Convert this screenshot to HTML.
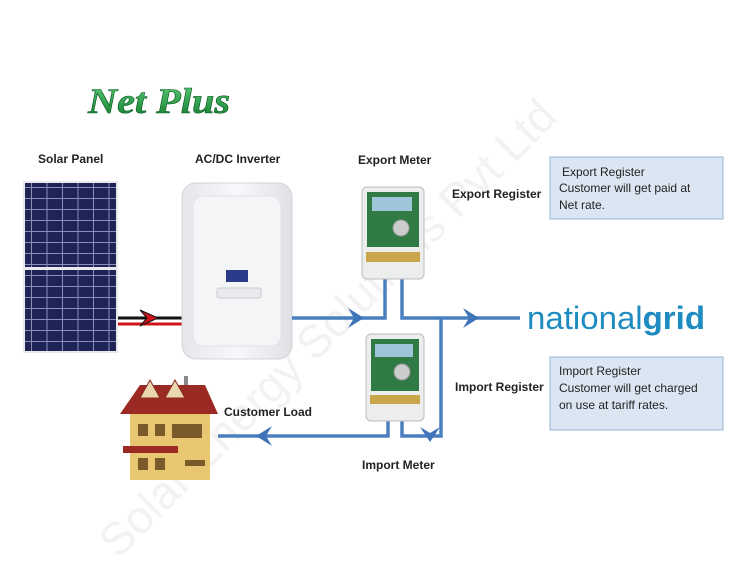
<!DOCTYPE html>
<html><head><meta charset="utf-8"><style>
html,body{margin:0;padding:0;background:#fff;}
svg{display:block;font-family:"Liberation Sans",sans-serif;}
</style></head><body>
<svg width="739" height="566" viewBox="0 0 739 566" xmlns="http://www.w3.org/2000/svg">
<defs>
<linearGradient id="np" x1="0" y1="0" x2="0" y2="1"><stop offset="0" stop-color="#5fd07a"/><stop offset="1" stop-color="#0e7a2c"/></linearGradient>
<linearGradient id="inv" x1="0" y1="0" x2="1" y2="0"><stop offset="0" stop-color="#e4e6ea"/><stop offset="0.5" stop-color="#f7f8fa"/><stop offset="1" stop-color="#dfe1e5"/></linearGradient>
<pattern id="cells" width="15.5" height="11" patternUnits="userSpaceOnUse"><rect width="15.5" height="11" fill="#1f2456"/><rect x="0" y="0" width="15.5" height="1" fill="#8a8fb8"/><rect x="0" y="0" width="1" height="11" fill="#8a8fb8"/></pattern>
</defs>
<!-- watermark -->
<text x="0" y="0" transform="translate(118,560) rotate(-45)" font-family="Liberation Sans" font-size="46" fill="#000" fill-opacity="0.05">Solar Energy Solutions Pvt Ltd</text>

<text x="88" y="113" font-family="Liberation Serif" font-weight="bold" font-style="italic" font-size="36" fill="url(#np)" stroke="#0a5a20" stroke-width="0.6" textLength="142" lengthAdjust="spacingAndGlyphs">Net Plus</text>

<g font-weight="bold" font-size="12" fill="#222">
<text x="38" y="163">Solar Panel</text>
<text x="195" y="163">AC/DC Inverter</text>
<text x="358" y="164">Export Meter</text>
<text x="452" y="198">Export Register</text>
<text x="455" y="391">Import Register</text>
<text x="224" y="416">Customer Load</text>
<text x="362" y="469">Import Meter</text>
</g>

<!-- solar panel -->
<rect x="23" y="181" width="95" height="172" fill="#e8e8ee"/>
<rect x="25" y="183" width="91" height="84" fill="url(#cells)"/>
<rect x="25" y="270" width="91" height="81" fill="url(#cells)"/>

<!-- wires to inverter -->
<line x1="118" y1="318" x2="185" y2="318" stroke="#111" stroke-width="3"/>
<line x1="118" y1="324" x2="185" y2="324" stroke="#d0141a" stroke-width="3"/>
<path d="M140 310 L158 318 L140 326 L147 318Z" fill="#d0141a" stroke="#111" stroke-width="1"/>

<!-- inverter -->
<rect x="182" y="183" width="110" height="176" rx="14" fill="url(#inv)" stroke="#d2d4d8"/>
<rect x="193" y="196" width="88" height="150" rx="10" fill="#f4f5f7" stroke="#e0e2e6"/>
<rect x="226" y="270" width="22" height="12" fill="#2c3a8c"/>
<rect x="217" y="288" width="44" height="10" rx="2" fill="#e9eaed" stroke="#ccc"/>

<!-- blue lines -->
<g stroke="#4a7fbf" stroke-width="3.5" fill="none" stroke-linejoin="miter">
<polyline points="292,318 385,318 385,278"/>
<polyline points="402,278 402,318 520,318"/>
<polyline points="441,318 441,436 402,436 402,420"/>
<polyline points="388,420 388,436 218,436"/>
</g>
<g fill="#3f74b8">
<path d="M348 308 L364 318 L348 328 L354 318Z"/>
<path d="M463 308 L479 318 L463 328 L469 318Z"/>
<path d="M272 426 L256 436 L272 446 L266 436Z"/>
<path d="M420 427 L430 442 L440 427 L430 433Z"/>
</g>

<!-- meters -->
<g>
<rect x="362" y="187" width="62" height="92" rx="5" fill="#eceeee" stroke="#bbb"/>
<rect x="367" y="192" width="52" height="55" fill="#2f7a45"/>
<rect x="372" y="197" width="40" height="14" fill="#9fc6d8"/>
<circle cx="401" cy="228" r="8" fill="#ccc" stroke="#999"/>
<rect x="366" y="252" width="54" height="10" fill="#c9a64a"/>
<rect x="366" y="334" width="58" height="87" rx="5" fill="#eceeee" stroke="#bbb"/>
<rect x="371" y="339" width="48" height="52" fill="#2f7a45"/>
<rect x="375" y="344" width="38" height="13" fill="#9fc6d8"/>
<circle cx="402" cy="372" r="8" fill="#ccc" stroke="#999"/>
<rect x="370" y="395" width="50" height="9" fill="#c9a64a"/>
</g>

<!-- house -->
<g>
<rect x="130" y="410" width="80" height="70" fill="#e9c672"/>
<path d="M120 414 L140 385 L205 385 L218 414Z" fill="#9b2a22"/>
<path d="M140 398 L150 380 L160 398Z M165 398 L175 380 L185 398Z" fill="#e9d7b0" stroke="#8a2a22"/>
<rect x="123" y="446" width="55" height="7" fill="#9b2a22"/>
<g fill="#7a5a28"><rect x="138" y="424" width="10" height="12"/><rect x="155" y="424" width="10" height="12"/><rect x="172" y="424" width="30" height="14"/><rect x="138" y="458" width="10" height="12"/><rect x="155" y="458" width="10" height="12"/><rect x="185" y="460" width="20" height="6"/></g>
<rect x="184" y="376" width="4" height="9" fill="#888"/>
</g>

<!-- national grid -->
<text x="527" y="329" font-size="32" fill="#1e8cc0" textLength="178" lengthAdjust="spacingAndGlyphs">national<tspan font-weight="bold">grid</tspan></text>

<!-- boxes -->
<rect x="550" y="157" width="173" height="62" fill="#dce6f2" stroke="#95b3d7"/>
<rect x="550" y="357" width="173" height="73" fill="#dce6f2" stroke="#95b3d7"/>
<g font-size="12" fill="#222">
<text x="562" y="176">Export Register</text>
<text x="559" y="192">Customer will get paid at</text>
<text x="559" y="209">Net rate.</text>
<text x="559" y="375">Import Register</text>
<text x="559" y="392">Customer will get charged</text>
<text x="559" y="409">on use at tariff rates.</text>
</g>
</svg>
</body></html>
